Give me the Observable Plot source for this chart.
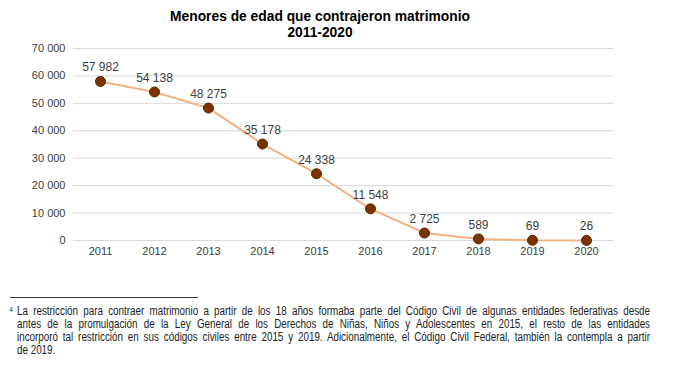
<!DOCTYPE html>
<html>
<head>
<meta charset="utf-8">
<script src="https://cdn.jsdelivr.net/npm/d3@7"></script>
<script src="https://cdn.jsdelivr.net/npm/@observablehq/plot@0.6"></script>
<style>
  body { margin: 0; background: #fff; font-family: "Liberation Sans", Arial, sans-serif; }
  #title { position: absolute; left: 0; top: 8px; width: 640px; text-align: center;
    font-family: "Liberation Sans", Arial, sans-serif; font-weight: bold;
    font-size: 15px; line-height: 16px; color: #000; transform: scaleX(0.92); transform-origin: 320px 0; }
  #chart { position: absolute; left: 0; top: 40px; }
  #rule { position: absolute; left: 10px; top: 297px; width: 188px; height: 0; border-top: 1px solid #333; }
  #note { position: absolute; left: 17px; top: 305px; width: 772px;
    font-family: "Liberation Sans", Arial, sans-serif; font-size: 12px; line-height: 13px; color: #222;
    transform: scaleX(0.82); transform-origin: 0 0; }
  #note .l { text-align: justify; text-align-last: justify; white-space: nowrap; }
  #note .last { text-align: left; }
  #note sup { position: absolute; left: -9px; top: -2px; font-size: 7px; }
</style>
</head>
<body>
<div id="title">Menores de edad que contrajeron matrimonio<br>2011-2020</div>
<div id="chart"></div>
<div id="rule"></div>
<div id="note"><sup>4</sup><div class="l">La restricción para contraer matrimonio a partir de los 18 años formaba parte del Código Civil de algunas entidades federativas desde</div><div class="l">antes de la promulgación de la Ley General de los Derechos de Niñas, Niños y Adolescentes en 2015, el resto de las entidades</div><div class="l">incorporó tal restricción en sus códigos civiles entre 2015 y 2019. Adicionalmente, el Código Civil Federal, también la contempla a partir</div><div class="last">de 2019.</div></div>
<script>
const years = ["2011","2012","2013","2014","2015","2016","2017","2018","2019","2020"];
const values = [57982, 54138, 48275, 35178, 24338, 11548, 2725, 589, 69, 26];
const yTicks = [0, 10000, 20000, 30000, 40000, 50000, 60000, 70000];

const data = years.map((y, i) => ({year: y, value: values[i]}));
const fmt = v => d3.format(",")(v).replace(/,/g, " ");

const chart = Plot.plot({
  width: 700,
  height: 225,
  marginLeft: 73,
  marginRight: 87,
  marginTop: 8,
  marginBottom: 25,
  style: {fontFamily: "Liberation Sans, Arial, sans-serif", fontSize: "11px", color: "#404040", background: "#fff"},
  x: {type: "point", domain: years, padding: 0.5, label: null, tickSize: 0, tickPadding: 7},
  y: {domain: [0, 70000], ticks: yTicks, tickFormat: fmt, label: null, tickSize: 0, tickPadding: 8},
  marks: [
    Plot.gridY(yTicks, {stroke: "#d9d9d9", strokeOpacity: 1, strokeWidth: 1}),
    Plot.axisY({ticks: yTicks, tickFormat: fmt, tickSize: 0, tickPadding: 8, label: null, fontSize: 11, fill: "#404040"}),
    Plot.axisX({tickSize: 0, tickPadding: 7, label: null, fontSize: 11, fill: "#404040"}),
    Plot.line(data, {x: "year", y: "value", stroke: "#f4b183", strokeWidth: 2}),
    Plot.dot(data, {x: "year", y: "value", r: 5, fill: "#7b3300", stroke: "#5a2500", strokeWidth: 1}),
    Plot.text(data, {x: "year", y: "value", text: d => fmt(d.value), dy: -14, fontSize: 12, fill: "#404040"})
  ]
});
document.getElementById("chart").appendChild(chart);
</script>
</body>
</html>
